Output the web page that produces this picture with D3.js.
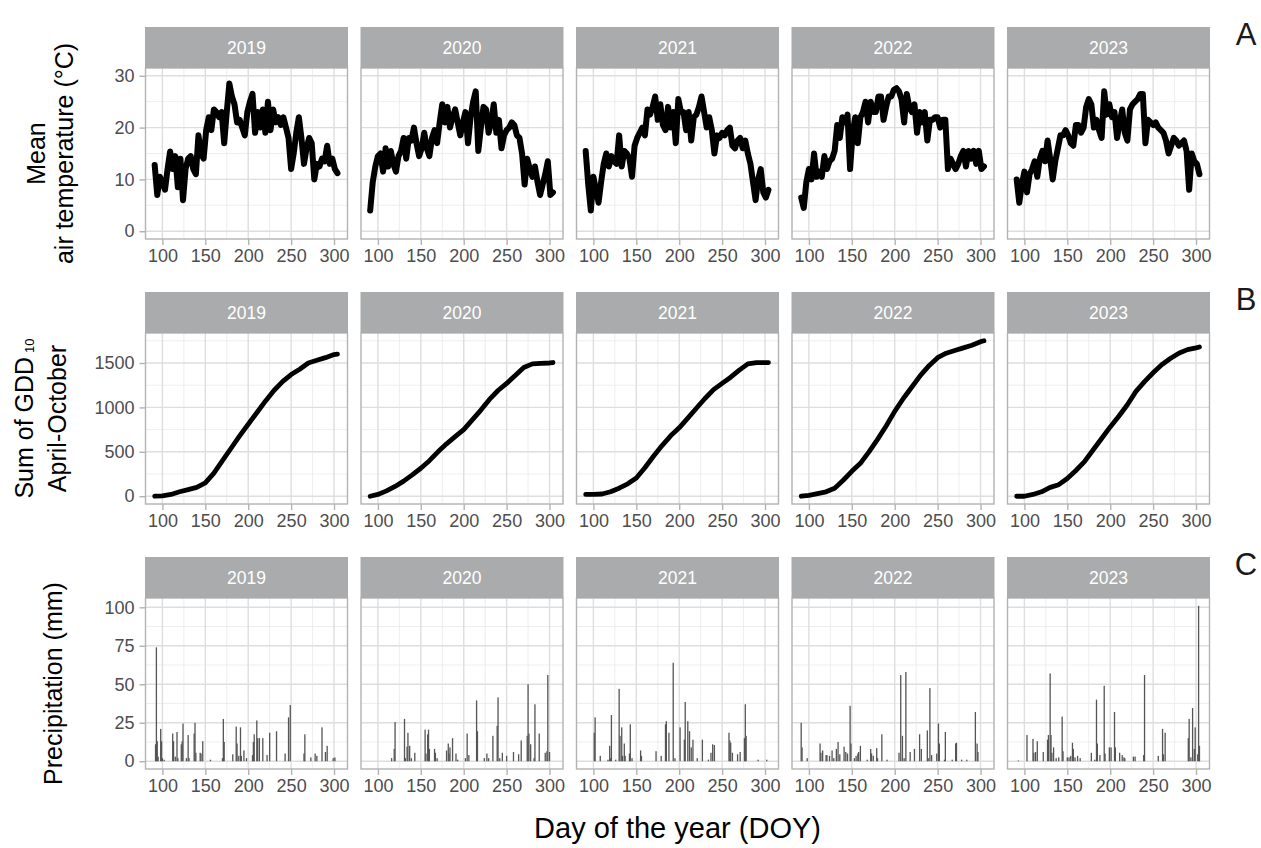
<!DOCTYPE html>
<html>
<head>
<meta charset="utf-8">
<script src="https://cdn.jsdelivr.net/npm/d3@7"></script>
<style>
  body { margin: 0; background: #fff; }
  svg { display: block; font-family: "Liberation Sans", Arial, sans-serif; }
</style>
</head>
<body>
<svg id="chart" width="1261" height="848"></svg>
<script>
const years = ["2019", "2020", "2021", "2022", "2023"];

// daily mean air temperature, read every 3rd day
const tempDays = [91, 94, 97, 100, 103, 106, 109, 112, 115, 118, 121, 124,
  127, 130, 133, 136, 139, 142, 145, 148, 151, 154, 157, 160,
  163, 166, 169, 172, 175, 178, 181, 184, 187, 190, 193, 196,
  199, 202, 205, 208, 211, 214, 217, 220, 223, 226, 229, 232,
  235, 238, 241, 244, 247, 250, 253, 256, 259, 262, 265, 268,
  271, 274, 277, 280, 283, 286, 289, 292, 295, 298, 301, 304];

const temp2019 = [12.8, 7, 10.5, 9.5, 8, 12, 15.4, 12, 14.5, 8.5, 14, 6,
  12, 14, 14.5, 12, 11, 18.5, 15, 14, 19.5, 22, 19.5, 23.5,
  23, 22, 23, 17, 23, 28.5, 26, 24.5, 21, 21.5, 20, 18.5,
  23, 25, 26.5, 19, 23, 20, 23.5, 19, 25, 19.5, 23.5, 21,
  22, 20.5, 22, 20, 18, 12, 15, 19, 22, 18, 13, 16,
  18, 17, 10, 13, 12.5, 14, 13.5, 16.5, 13, 14, 12, 11.2];
const temp2020 = [4, 9.5, 12.5, 14.5, 15, 11.5, 16, 12.5, 15.5, 13, 11.5, 14.5,
  15.5, 18, 14, 18, 17.5, 20, 17, 14.5, 16, 19, 16, 14.5,
  18, 19.5, 17, 21, 24.5, 21, 24, 20, 22, 23.5, 21, 18.5,
  21, 23, 17, 22, 25, 27, 15.5, 20, 24, 23.5, 19, 21,
  24.5, 19, 21.5, 16, 18.5, 19.5, 20, 21, 20.5, 18.5, 18, 15,
  9, 14, 12, 10.5, 12.5, 9.5, 7, 9, 11, 13.5, 7, 7.5];
const temp2021 = [15.5, 9, 4, 10.5, 8, 5.5, 9.5, 13, 15, 12.5, 14.5, 13.5,
  13, 18.5, 12.5, 15.5, 15, 14, 10.5, 16.5, 18, 19, 20, 18.5,
  23.5, 22.5, 24, 26, 21.5, 24.5, 20.5, 19.5, 24, 20, 23, 17,
  25.5, 23, 23, 19.5, 23, 17.5, 22, 22.5, 24, 26, 23, 20,
  22, 19.5, 15, 18.5, 18, 19, 18.5, 19.5, 20, 16.5, 16, 17.5,
  18, 16, 17.5, 15, 13, 9.5, 6, 10, 12, 7.5, 6.5, 8];
const temp2022 = [6.5, 4.5, 9.5, 12, 10, 15, 10.5, 11.5, 10.5, 14.5, 12, 13.5,
  14, 15.5, 20.5, 18, 22, 21, 22.5, 12, 19, 22, 17, 22,
  23, 25, 21, 25, 23, 23, 26, 26, 21.5, 24, 26, 26,
  27.3, 27.6, 27, 25.4, 21, 26.5, 24, 23, 24.5, 19, 23, 21,
  23, 17.5, 21.5, 21.5, 22, 22, 20, 21.5, 21.5, 12, 14, 13,
  12, 13, 14.5, 15.5, 12.5, 15.5, 14, 15.5, 13, 15.5, 12, 12.5];
const temp2023 = [10, 5.5, 9, 11.5, 7.5, 11, 12, 13.5, 10.5, 14, 15.5, 13.5,
  17.5, 14, 10, 13.5, 16, 18.5, 18.5, 19.5, 18.5, 17, 16.5, 20.5,
  20.5, 19, 20, 24, 25.5, 24.5, 20, 21.5, 19.5, 18, 27, 22.5,
  24.5, 22, 23, 18, 21, 23.5, 19, 17.5, 23.5, 24.5, 25, 25.5,
  26.5, 26.5, 17, 21.5, 21, 20.5, 21, 20, 19.5, 19, 17.5, 15,
  16.5, 18, 17.5, 16.5, 17, 17.5, 15.5, 8, 15, 13.5, 13, 11];

// cumulative growing degree days (base 10)
const gddDays = [91, 100, 110, 120, 130, 140, 150, 160, 170, 180, 190, 200,
  210, 220, 230, 240, 250, 260, 270, 280, 290, 300, 304];
const gdd2019 = [0, 5, 20, 50, 75, 100, 150, 260, 400, 540, 680, 810,
  940, 1070, 1190, 1290, 1370, 1430, 1500, 1530, 1560, 1595, 1600];
const gdd2020 = [0, 20, 60, 110, 170, 240, 315, 400, 500, 590, 670, 750,
  860, 970, 1090, 1190, 1270, 1360, 1450, 1490, 1495, 1500, 1505];
const gdd2021 = [20, 20, 25, 50, 90, 140, 205, 320, 450, 570, 680, 770,
  880, 990, 1100, 1200, 1270, 1340, 1420, 1490, 1505, 1505, 1505];
const gdd2022 = [0, 10, 30, 50, 90, 180, 280, 370, 500, 640, 790, 955,
  1100, 1230, 1360, 1470, 1560, 1610, 1640, 1670, 1700, 1740, 1750];
const gdd2023 = [0, 0, 20, 50, 100, 130, 200, 290, 390, 520, 650, 780,
  900, 1030, 1180, 1290, 1390, 1480, 1550, 1610, 1650, 1670, 1680];

// daily precipitation [DOY, mm]
const precip2019 = [[92, 11], [93, 74], [94, 13], [95, 3], [98, 21], [99, 13], [100, 2], [102, 1],
  [112, 18], [113, 13], [115, 3], [117, 19], [118, 2], [122, 11], [123, 13], [124, 24.5],
  [128, 2], [130, 17], [131, 2], [137, 18], [138, 25], [139, 5.5], [144, 5.5], [145, 5],
  [147, 13], [156, 1], [170, 2], [171, 27.5], [172, 12.5], [182, 4.5], [186, 22.5], [187, 11.5],
  [189, 3.5], [191, 22], [192, 3.5], [195, 7], [198, 2], [205, 4], [206, 12.5], [207, 17.5],
  [210, 26.5], [211, 15], [213, 15], [217, 15], [222, 4], [225, 18.5], [233, 19.5], [243, 5],
  [247, 28.5], [249, 36.5], [265, 5], [266, 17.5], [273, 2.5], [278, 5], [280, 3.5], [286, 22],
  [290, 6], [292, 10], [299, 2], [301, 2.5]];
const precip2020 = [[116, 2], [119, 8], [120, 25.5], [131, 27.5], [132, 2], [134, 9.5], [135, 18.5],
  [137, 10], [139, 2], [143, 5.5], [155, 20.5], [156, 5], [158, 17.5], [159, 20.5], [160, 8],
  [166, 8], [167, 5.5], [169, 2], [180, 7], [182, 11.5], [183, 5], [184, 9], [187, 15], [191, 5],
  [193, 1], [202, 2], [204, 18], [206, 4], [215, 39.5], [216, 19.5], [224, 2], [227, 5], [229, 2],
  [234, 16.5], [239, 23], [240, 41.5], [242, 2], [245, 5.5], [250, 3.5], [258, 6], [264, 4.5],
  [267, 13.5], [274, 16.5], [275, 50], [276, 18], [278, 11], [282, 2], [283, 37], [288, 18],
  [295, 5.5], [297, 6.5], [298, 56], [300, 6]];
const precip2021 = [[101, 18.5], [102, 28.5], [108, 3.5], [117, 1], [119, 10], [120, 2], [121, 30],
  [126, 1], [130, 47], [131, 16.5], [133, 22], [134, 3.5], [136, 11.5], [137, 3.5], [142, 5],
  [143, 24], [145, 2], [155, 7], [156, 3.5], [173, 6.5], [179, 3.5], [184, 24], [185, 26],
  [188, 18.5], [193, 64], [195, 2], [201, 22], [206, 14], [207, 38.5], [210, 26], [212, 19.5],
  [214, 9], [216, 14], [221, 2], [227, 14], [234, 1], [237, 5.5], [239, 11], [241, 10.5],
  [258, 18.5], [259, 13.5], [260, 12], [262, 5.5], [268, 4.5], [271, 6], [276, 15], [277, 37],
  [278, 16.5], [292, 1], [302, 1]];
const precip2022 = [[91, 25], [92, 9], [98, 2], [113, 11.5], [114, 5.5], [116, 7], [120, 4], [121, 4],
  [124, 3.5], [127, 7], [129, 2], [132, 8], [134, 12.5], [136, 4.5], [141, 9.5], [143, 6], [145, 5],
  [148, 36], [149, 11.5], [153, 2], [155, 3.5], [157, 5], [158, 6], [160, 10], [168, 1], [172, 8],
  [173, 5], [175, 3.5], [179, 8.5], [180, 2], [185, 17.5], [191, 1], [205, 5.5], [207, 56],
  [209, 16.5], [211, 2], [213, 58], [218, 6], [223, 8], [229, 17.5], [231, 8], [238, 20], [239, 2],
  [241, 47.5], [243, 4], [249, 5], [251, 24.5], [252, 11.5], [258, 1], [259, 19], [267, 1],
  [271, 11.5], [272, 12], [278, 1], [284, 1], [294, 32], [296, 11.5], [297, 6]];
const precip2023 = [[93, 0.5], [103, 17], [110, 14.5], [111, 5.5], [113, 6], [115, 13], [122, 6],
  [127, 14], [128, 17], [130, 57], [131, 17], [132, 5.5], [134, 9], [137, 2], [140, 2.5], [144, 29],
  [145, 6.5], [150, 2.5], [152, 2.5], [154, 3.5], [156, 12], [157, 8], [159, 2.5], [162, 3.5],
  [165, 2], [178, 5.5], [182, 1], [184, 40], [185, 11.5], [188, 4], [193, 49], [194, 5], [199, 9],
  [201, 9], [205, 32], [206, 9], [211, 5.5], [214, 4], [216, 2.5], [217, 2], [227, 3], [229, 3],
  [239, 4], [240, 56], [256, 3.5], [261, 21], [262, 4.5], [264, 18.5], [291, 15], [292, 27.5],
  [294, 2.5], [296, 34.5], [298, 8], [299, 22], [302, 4.5], [303, 101], [304, 10]];

const xTicks = [100, 150, 200, 250, 300];
const xMinor = [125, 175, 225, 275];

const tempByYear = [temp2019, temp2020, temp2021, temp2022, temp2023];
const gddByYear = [gdd2019, gdd2020, gdd2021, gdd2022, gdd2023];
const precipByYear = [precip2019, precip2020, precip2021, precip2022, precip2023];

const svg = d3.select("#chart");

const panelLeft = 145.5, panelStep = 215.5, panelW = 202;
const stripH = 41, panelH = 171;

// ggplot-like 5% expansion
function expand(lo, hi) {
  const p = (hi - lo) * 0.05;
  return [lo - p, hi + p];
}

const x = d3.scaleLinear().domain(expand(91, 305)).range([0, panelW]);

function drawTemp(g, i, y) {
  const line = d3.line().x(d => x(d[0])).y(d => y(d[1]));
  g.append("path")
    .datum(tempDays.map((d, k) => [d, tempByYear[i][k]]))
    .attr("d", line)
    .attr("fill", "none")
    .attr("stroke", "#000")
    .attr("stroke-width", 6)
    .attr("stroke-linejoin", "round")
    .attr("stroke-linecap", "round");
}

function drawGdd(g, i, y) {
  const line = d3.line().x(d => x(d[0])).y(d => y(d[1]));
  g.append("path")
    .datum(gddDays.map((d, k) => [d, gddByYear[i][k]]))
    .attr("d", line)
    .attr("fill", "none")
    .attr("stroke", "#000")
    .attr("stroke-width", 4.8)
    .attr("stroke-linejoin", "round")
    .attr("stroke-linecap", "round");
}

function drawPrecip(g, i, y) {
  g.selectAll("rect.bar")
    .data(precipByYear[i])
    .join("rect")
    .attr("class", "bar")
    .attr("x", d => x(d[0]) - 0.65)
    .attr("width", 1.3)
    .attr("y", d => y(d[1]))
    .attr("height", d => y(0) - y(d[1]))
    .attr("fill", "#555");
}

const rows = [
  { top: 27, ylim: [0, 30], ticks: [0, 10, 20, 30], minor: [5, 15, 25],
    letter: "A", letterY: 45, draw: drawTemp,
    titles: [{ text: "Mean", x: 45 }, { text: "air temperature (°C)", x: 73 }] },
  { top: 292, ylim: [0, 1750], ticks: [0, 500, 1000, 1500], minor: [250, 750, 1250, 1750],
    letter: "B", letterY: 310, draw: drawGdd,
    titles: [{ text: "Sum of GDD", sub: "10", x: 33 }, { text: "April-October", x: 66 }] },
  { top: 557, ylim: [0, 101], ticks: [0, 25, 50, 75, 100], minor: [12.5, 37.5, 62.5, 87.5],
    letter: "C", letterY: 575, draw: drawPrecip,
    titles: [{ text: "Precipitation (mm)", x: 62 }] }
];

rows.forEach(row => {
  const pTop = row.top + stripH;
  const y = d3.scaleLinear().domain(expand(row.ylim[0], row.ylim[1])).range([panelH, 0]);

  years.forEach((yr, i) => {
    const g = svg.append("g")
      .attr("transform", `translate(${panelLeft + i * panelStep},${pTop})`);

    // strip
    svg.append("rect")
      .attr("x", panelLeft + i * panelStep - 0.5)
      .attr("y", row.top)
      .attr("width", panelW + 1)
      .attr("height", stripH)
      .attr("fill", "#a9abac");
    svg.append("text")
      .attr("x", panelLeft + i * panelStep + panelW / 2)
      .attr("y", row.top + stripH / 2)
      .attr("dy", "0.36em")
      .attr("text-anchor", "middle")
      .attr("fill", "#fff")
      .attr("font-size", 17.5)
      .text(yr);

    // grid
    g.selectAll("line.minor-x").data(xMinor).join("line")
      .attr("x1", d => x(d)).attr("x2", d => x(d))
      .attr("y1", 0).attr("y2", panelH)
      .attr("stroke", "#ececec").attr("stroke-width", 0.9);
    g.selectAll("line.minor-y").data(row.minor).join("line")
      .attr("x1", 0).attr("x2", panelW)
      .attr("y1", d => y(d)).attr("y2", d => y(d))
      .attr("stroke", "#ececec").attr("stroke-width", 0.9);
    g.selectAll("line.major-x").data(xTicks).join("line")
      .attr("x1", d => x(d)).attr("x2", d => x(d))
      .attr("y1", 0).attr("y2", panelH)
      .attr("stroke", "#dedede").attr("stroke-width", 1.4);
    g.selectAll("line.major-y").data(row.ticks).join("line")
      .attr("x1", 0).attr("x2", panelW)
      .attr("y1", d => y(d)).attr("y2", d => y(d))
      .attr("stroke", "#dedede").attr("stroke-width", 1.4);

    row.draw(g, i, y);

    // border
    g.append("rect")
      .attr("width", panelW).attr("height", panelH)
      .attr("fill", "none")
      .attr("stroke", "#b3b3b3").attr("stroke-width", 1.4);

    // x axis
    const ax = g.append("g")
      .attr("transform", `translate(0,${panelH})`)
      .call(d3.axisBottom(x).tickValues(xTicks).tickSize(6).tickPadding(4));
    ax.select(".domain").remove();
    ax.selectAll(".tick line").attr("stroke", "#b3b3b3").attr("stroke-width", 1.4);
    ax.selectAll(".tick text").attr("fill", "#4d4d4d").attr("font-size", 18)
      .attr("font-family", "Liberation Sans, Arial, sans-serif");

    if (i === 0) {
      const ay = g.append("g")
        .call(d3.axisLeft(y).tickValues(row.ticks).tickFormat(d3.format("d"))
          .tickSize(6).tickPadding(5));
      ay.select(".domain").remove();
      ay.selectAll(".tick line").attr("stroke", "#b3b3b3").attr("stroke-width", 1.4);
      ay.selectAll(".tick text").attr("fill", "#4d4d4d").attr("font-size", 18)
        .attr("font-family", "Liberation Sans, Arial, sans-serif");
    }
  });

  // y-axis title
  const cy = pTop + panelH / 2;
  row.titles.forEach(t => {
    const txt = svg.append("text")
      .attr("transform", `translate(${t.x},${cy}) rotate(-90)`)
      .attr("text-anchor", "middle")
      .attr("font-size", 25)
      .attr("fill", "#000")
      .text(t.text);
    if (t.sub) {
      txt.append("tspan")
        .attr("dy", "0.05em")
        .attr("dx", 4)
        .attr("font-size", 13)
        .text(t.sub);
    }
  });

  // panel letter
  svg.append("text")
    .attr("x", 1246)
    .attr("y", row.letterY)
    .attr("text-anchor", "middle")
    .attr("font-size", 31)
    .attr("fill", "#1a1a1a")
    .text(row.letter);
});

// x-axis title
svg.append("text")
  .attr("x", panelLeft + (4 * panelStep + panelW) / 2)
  .attr("y", 838)
  .attr("text-anchor", "middle")
  .attr("font-size", 29)
  .attr("fill", "#000")
  .text("Day of the year (DOY)");
</script>
</body>
</html>
